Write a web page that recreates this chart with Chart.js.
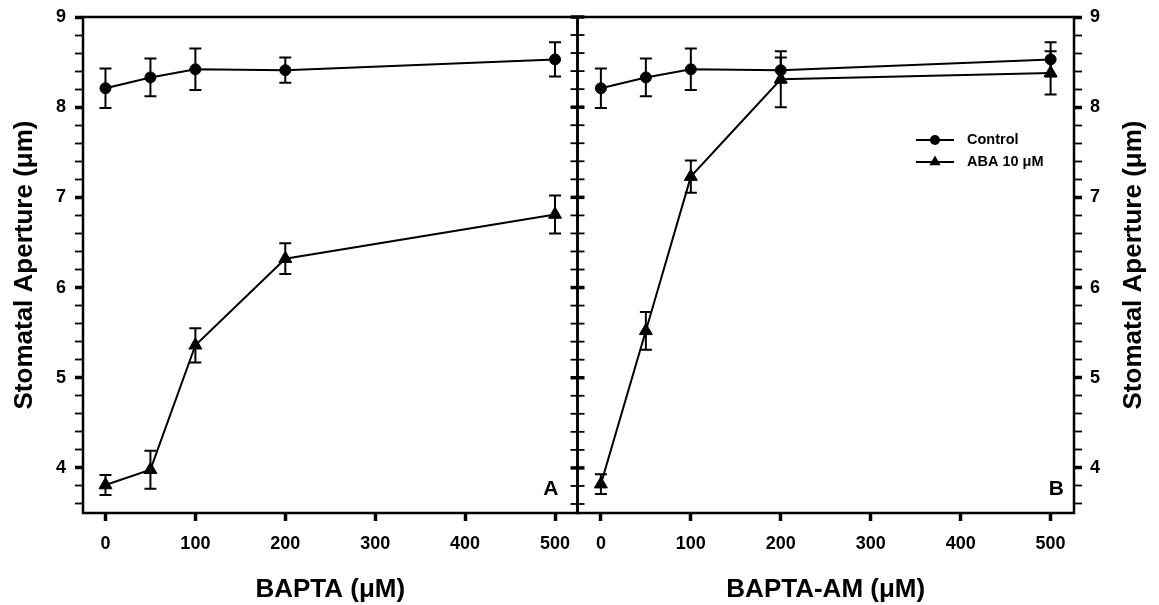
<!DOCTYPE html>
<html>
<head>
<meta charset="utf-8">
<script src="https://cdn.jsdelivr.net/npm/chart.js@4/dist/chart.umd.min.js"></script>
<style>
  body { margin: 0; background: #fff; }
  #wrap { position: relative; width: 1159px; height: 605px; }
  #chartA { position: absolute; left: 0; top: 0; }
  #chartB { position: absolute; left: 569px; top: 0; }
</style>
</head>
<body>
<div id="wrap">
  <canvas id="chartA" width="586" height="605"></canvas>
  <canvas id="chartB" width="590" height="605"></canvas>
</div>
<script>
// concentrations (µM) and stomatal aperture means ± error
const concentrations = [0, 50, 100, 200, 500];
const xTickValues = [0, 100, 200, 300, 400, 500];
const yTickLabels = [4, 5, 6, 7, 8, 9];

const baptaControl = [8.21, 8.33, 8.42, 8.41, 8.53];
const baptaControlErr = [0.22, 0.21, 0.23, 0.14, 0.19];
const baptaAba = [3.81, 3.98, 5.36, 6.32, 6.81];
const baptaAbaErr = [0.11, 0.21, 0.19, 0.17, 0.21];

const baptaAmControl = [8.21, 8.33, 8.42, 8.41, 8.53];
const baptaAmControlErr = [0.22, 0.21, 0.23, 0.14, 0.19];
const baptaAmAba = [3.82, 5.52, 7.23, 8.31, 8.38];
const baptaAmAbaErr = [0.11, 0.21, 0.18, 0.31, 0.24];

const FONT = "'Liberation Sans', Arial, sans-serif";
Chart.defaults.font.family = FONT;
Chart.defaults.color = '#000';

const isWhole = v => Math.abs(v - Math.round(v)) < 1e-6;

// minor ticks every 0.2 between 3.6 and 9
const yMinorTicks = [];
for (let i = 18; i <= 45; i++) yMinorTicks.push(Math.round(i * 0.2 * 10) / 10);

function series(label, means, errs, style) {
  return {
    label: label,
    data: concentrations.map((c, i) => ({ x: c, y: means[i] })),
    errors: errs,
    borderColor: '#000',
    backgroundColor: '#000',
    borderWidth: 2,
    pointStyle: style,
    pointRadius: style === 'circle' ? 5.5 : 7.5,
    pointBorderWidth: 1,
    pointBackgroundColor: '#000',
    pointBorderColor: '#000',
    tension: 0
  };
}

// error bars go under the markers
const errorBars = {
  id: 'errorBars',
  beforeDatasetsDraw(chart) {
    const { ctx, scales: { x, y } } = chart;
    ctx.save();
    ctx.strokeStyle = '#000';
    ctx.lineWidth = 2;
    chart.data.datasets.forEach(ds => {
      ds.data.forEach((p, j) => {
        const e = ds.errors[j];
        const px = x.getPixelForValue(p.x);
        const top = y.getPixelForValue(p.y + e);
        const bot = y.getPixelForValue(p.y - e);
        ctx.beginPath();
        ctx.moveTo(px, top); ctx.lineTo(px, bot);
        ctx.moveTo(px - 6, top); ctx.lineTo(px + 6, top);
        ctx.moveTo(px - 6, bot); ctx.lineTo(px + 6, bot);
        ctx.stroke();
      });
    });
    ctx.restore();
  }
};

// box frame, ticks on the shared edge, panel letter, right title, legend
const panelDecor = {
  id: 'panelDecor',
  afterDraw(chart, args, opts) {
    const { ctx, chartArea: a, scales: { y } } = chart;
    ctx.save();
    ctx.strokeStyle = '#000';
    ctx.fillStyle = '#000';
    ctx.lineWidth = 2.5;
    ctx.strokeRect(a.left, a.top, a.right - a.left, a.bottom - a.top);

    const edgeX = opts.edge === 'right' ? a.right : a.left;
    const dir = opts.edge === 'right' ? -1 : 1;
    y.ticks.forEach(t => {
      const py = y.getPixelForValue(t.value);
      ctx.lineWidth = isWhole(t.value) ? 3.5 : 1.8;
      ctx.beginPath();
      ctx.moveTo(edgeX, py);
      ctx.lineTo(edgeX + dir * 7, py);
      ctx.stroke();
    });

    ctx.font = 'bold 21px ' + FONT;
    ctx.textAlign = 'right';
    ctx.textBaseline = 'alphabetic';
    ctx.fillText(opts.letter, a.right - opts.letterInset, a.bottom - 18);

    if (opts.rightTitle) {
      ctx.save();
      ctx.translate(opts.rightTitleX, (a.top + a.bottom) / 2);
      ctx.rotate(-Math.PI / 2);
      ctx.font = 'bold 26px ' + FONT;
      ctx.textAlign = 'center';
      ctx.textBaseline = 'middle';
      ctx.fillText(opts.rightTitle, 0, 0);
      ctx.restore();
    }

    if (opts.legend) {
      const lx = opts.legend.x, ly = opts.legend.y;
      chart.data.datasets.forEach((ds, i) => {
        const yy = ly + i * 22;
        ctx.lineWidth = 2;
        ctx.beginPath();
        ctx.moveTo(lx, yy); ctx.lineTo(lx + 38, yy);
        ctx.stroke();
        const cx = lx + 19;
        ctx.beginPath();
        if (ds.pointStyle === 'circle') {
          ctx.arc(cx, yy, 5, 0, Math.PI * 2);
        } else {
          const r = 6.5;
          ctx.moveTo(cx, yy - r);
          ctx.lineTo(cx + r * 0.866, yy + r / 2);
          ctx.lineTo(cx - r * 0.866, yy + r / 2);
          ctx.closePath();
        }
        ctx.fill();
        ctx.font = 'bold 14.5px ' + FONT;
        ctx.textAlign = 'left';
        ctx.textBaseline = 'middle';
        ctx.fillText(ds.label, lx + 51, yy);
      });
    }
    ctx.restore();
  }
};

function xScale(title, min, max) {
  return {
    type: 'linear',
    min: min,
    max: max,
    afterBuildTicks: s => { s.ticks = xTickValues.map(v => ({ value: v })); },
    afterFit: s => { s.height = 92; s.paddingLeft = 0; s.paddingRight = 0; },
    border: { display: false },
    grid: { drawOnChartArea: false, drawTicks: true, tickLength: 8, tickWidth: 3.5, color: '#000' },
    ticks: { autoSkip: false, maxRotation: 0, padding: 12, font: { size: 18, weight: 'bold' } },
    title: { display: true, text: title, font: { size: 26, weight: 'bold' }, padding: { top: 0, bottom: 0 } }
  };
}

function yScale(position, width, withTitle) {
  return {
    type: 'linear',
    position: position,
    min: 3.5,
    max: 9,
    afterBuildTicks: s => { s.ticks = yMinorTicks.map(v => ({ value: v })); },
    afterFit: s => { s.width = width; s.paddingTop = 0; s.paddingBottom = 0; },
    border: { display: false },
    grid: {
      drawOnChartArea: false, drawTicks: true, tickLength: 8, color: '#000',
      tickWidth: c => isWhole(c.tick.value) ? 3.5 : 1.8
    },
    ticks: {
      autoSkip: false,
      padding: position === 'left' ? 9 : 8,
      font: { size: 18, weight: 'bold' },
      callback: v => yTickLabels.includes(Math.round(v)) && isWhole(v) ? String(Math.round(v)) : ''
    },
    title: {
      display: withTitle, text: 'Stomatal Aperture (μm)',
      font: { size: 26, weight: 'bold' }, padding: { top: 9, bottom: 0 }
    }
  };
}

new Chart(document.getElementById('chartA'), {
  type: 'line',
  data: {
    datasets: [
      series('Control', baptaControl, baptaControlErr, 'circle'),
      series('ABA 10 μM', baptaAba, baptaAbaErr, 'triangle')
    ]
  },
  options: {
    responsive: false,
    animation: false,
    layout: { padding: { top: 17, right: 3, left: 0, bottom: 0 } },
    scales: { x: xScale('BAPTA (μM)', -25, 525), y: yScale('left', 83, true) },
    plugins: {
      legend: { display: false },
      tooltip: { enabled: false },
      panelDecor: { edge: 'right', letter: 'A', letterInset: 19 }
    }
  },
  plugins: [errorBars, panelDecor]
});

new Chart(document.getElementById('chartB'), {
  type: 'line',
  data: {
    datasets: [
      series('Control', baptaAmControl, baptaAmControlErr, 'circle'),
      series('ABA 10 μM', baptaAmAba, baptaAmAbaErr, 'triangle')
    ]
  },
  options: {
    responsive: false,
    animation: false,
    layout: { padding: { top: 17, right: 0, left: 2, bottom: 0 } },
    scales: { x: xScale('BAPTA-AM (μM)', -26, 526), y: yScale('right', 85, false) },
    plugins: {
      legend: { display: false },
      tooltip: { enabled: false },
      panelDecor: {
        edge: 'left', letter: 'B', letterInset: 10,
        rightTitle: 'Stomatal Aperture (μm)', rightTitleX: 565,
        legend: { x: 347, y: 140 }
      }
    }
  },
  plugins: [errorBars, panelDecor]
});
</script>
</body>
</html>
